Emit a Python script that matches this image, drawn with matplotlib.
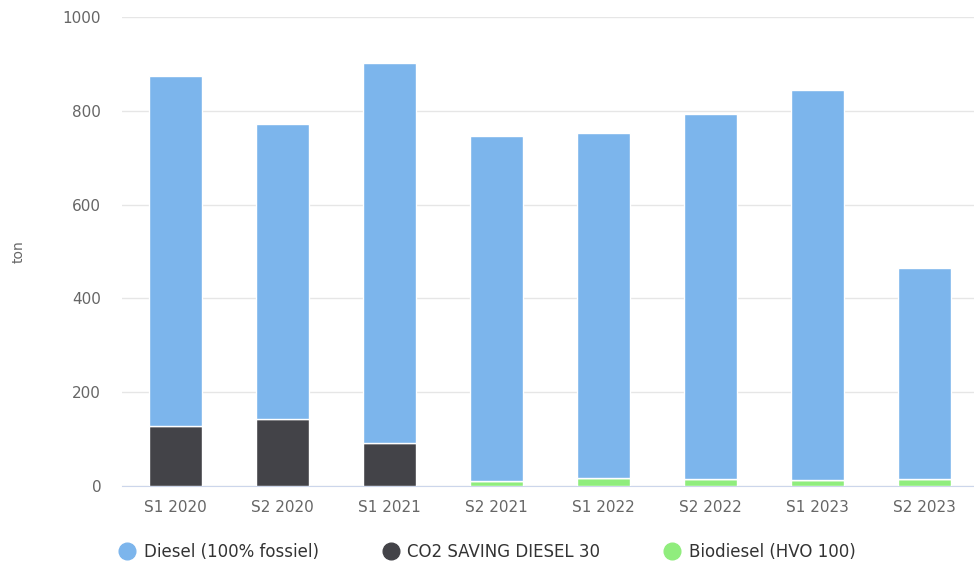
import matplotlib.pyplot as plt
import numpy as np
from matplotlib.lines import Line2D

periods = ['S1 2020', 'S2 2020', 'S1 2021', 'S2 2021', 'S1 2022', 'S2 2022', 'S1 2023', 'S2 2023']
co2_saving = [128, 143, 92, 0, 0, 0, 0, 0]
biodiesel = [0, 0, 0, 11, 17, 14, 12, 14]
diesel = [746, 629, 810, 735, 736, 779, 832, 451]

names = ['Diesel (100% fossiel)', 'CO2 SAVING DIESEL 30', 'Biodiesel (HVO 100)']
colors = ['#7cb5ec', '#434348', '#90ed7d']

fig = plt.figure(figsize=(9.74, 5.67), dpi=100)
ax = fig.add_axes([0.1253, 0.1429, 0.879, 0.827])

xs = np.arange(len(periods))
w = 0.49
bottom = np.zeros(len(periods))
# stack order from bottom: biodiesel, co2 saving, diesel
for vals, c in [(biodiesel, colors[2]), (co2_saving, colors[1]), (diesel, colors[0])]:
    vals = np.array(vals, dtype=float)
    ax.bar(xs, vals, w, bottom=bottom, color=c, edgecolor='white', linewidth=1, zorder=3)
    bottom += vals

ax.set_xlim(-0.5, len(periods) - 0.5)
ax.set_ylim(0, 1000)
ax.set_yticks([0, 200, 400, 600, 800, 1000])
ax.set_xticks(xs)
ax.set_xticklabels(periods)
ax.grid(axis='y', color='#e6e6e6', linewidth=1, zorder=0)
for s in ['top', 'right', 'left']:
    ax.spines[s].set_visible(False)
ax.spines['bottom'].set_color('#ccd6eb')
ax.tick_params(axis='y', length=0, pad=15, labelsize=11, labelcolor='#666666')
ax.tick_params(axis='x', length=0, pad=10, labelsize=11, labelcolor='#666666')
ax.set_ylabel('ton', color='#666666', fontsize=10)
ax.yaxis.set_label_coords(-0.113, 0.5)

handles = [Line2D([], [], marker='o', linestyle='none', markersize=12, color=c) for c in colors]
fig.legend(handles, names, loc='center left', bbox_to_anchor=(119 / 974, 0.0265), ncol=3,
           frameon=False, fontsize=12, columnspacing=3.8, handletextpad=0.5, handlelength=1,
           borderpad=0, borderaxespad=0, labelcolor='#333333')

fig.savefig('out.png', dpi=100)
